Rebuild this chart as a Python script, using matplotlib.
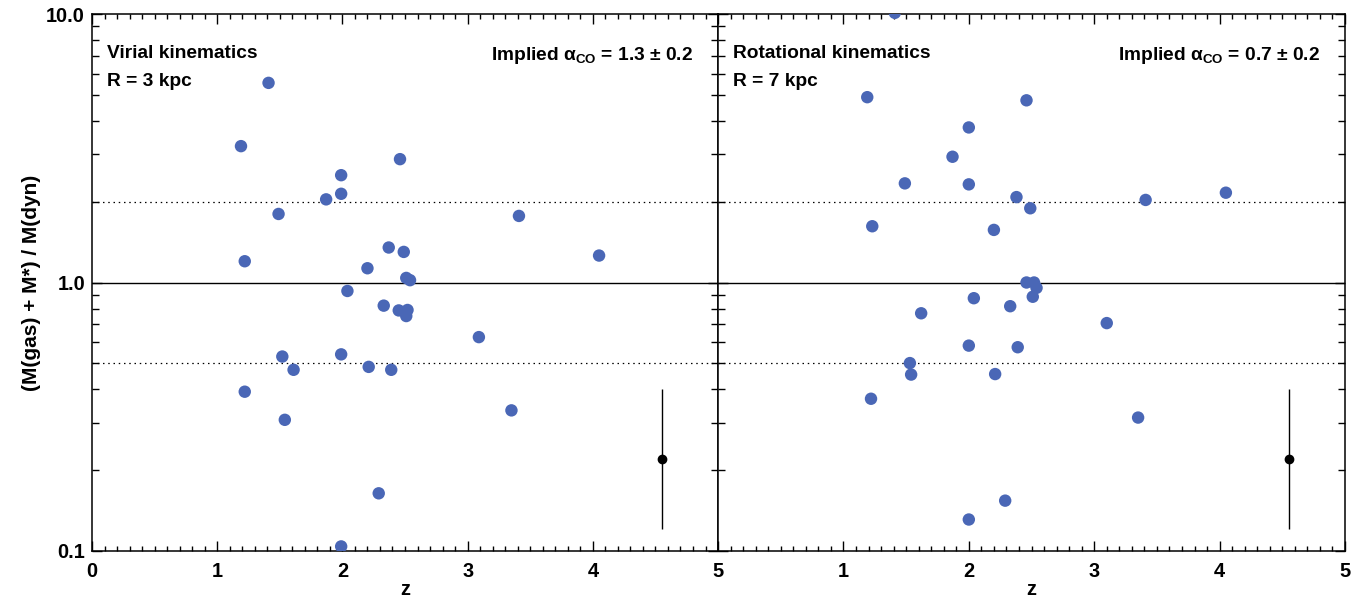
import matplotlib
matplotlib.use("Agg")
import matplotlib.pyplot as plt
from matplotlib.ticker import FixedLocator, LogLocator, MultipleLocator, NullFormatter

plt.rcParams['font.family'] = ['Liberation Sans', 'DejaVu Sans']
plt.rcParams['font.weight'] = 'bold'
plt.rcParams['mathtext.fontset'] = 'custom'
plt.rcParams['mathtext.rm'] = 'Liberation Sans'
plt.rcParams['mathtext.it'] = 'Liberation Sans'

# virial kinematics, R = 3 kpc
z_vir = [1.41, 1.19, 1.99, 1.99, 1.87, 1.49, 1.22, 2.20, 2.37, 2.04,
         2.46, 3.41, 2.49, 4.05, 2.51, 2.54, 2.33, 2.45, 2.52, 2.51,
         3.09, 1.52, 1.99, 1.61, 2.21, 2.39, 1.22, 1.54, 3.35, 2.29, 1.99]
ratio_vir = [5.54, 3.22, 2.51, 2.14, 2.04, 1.80, 1.20, 1.13, 1.35, 0.93,
             2.88, 1.77, 1.30, 1.26, 1.04, 1.02, 0.82, 0.787, 0.79, 0.75,
             0.626, 0.53, 0.54, 0.473, 0.485, 0.473, 0.392, 0.308, 0.334, 0.164, 0.104]

# rotational kinematics, R = 7 kpc
z_rot = [1.41, 1.19, 2.46, 2.00, 1.87, 1.49, 2.00, 2.38, 2.49, 1.23,
         2.20, 2.46, 2.52, 3.41, 4.05, 2.54, 2.04, 2.51, 2.33, 1.62,
         2.00, 2.39, 1.53, 1.54, 2.21, 1.22, 2.29, 2.00, 3.10, 3.35]
ratio_rot = [10.1, 4.90, 4.77, 3.78, 2.94, 2.34, 2.32, 2.08, 1.89, 1.62,
             1.57, 1.00, 1.00, 2.03, 2.16, 0.955, 0.874, 0.885, 0.816, 0.768,
             0.582, 0.574, 0.501, 0.454, 0.456, 0.369, 0.154, 0.131, 0.706, 0.314]

# typical uncertainty point
err_z = 4.55
err_val = 0.221
err_lo = 0.121
err_hi = 0.402

x_labels_left = ['0', '1', '2', '3', '4', '5']
x_labels_right = ['', '1', '2', '3', '4', '5']
y_labels = ['0.1', '1.0', '10.0']

panels = [
    (z_vir, ratio_vir, 'Virial kinematics', 'R = 3 kpc', r'Implied $\alpha_{\rm CO}$ = 1.3 ± 0.2', x_labels_left),
    (z_rot, ratio_rot, 'Rotational kinematics', 'R = 7 kpc', r'Implied $\alpha_{\rm CO}$ = 0.7 ± 0.2', x_labels_right),
]

fig = plt.figure(figsize=(13.63, 6.01), dpi=100)
left, mid, right = 0.0675, 0.5268, 0.9868
bottom, top = 0.0832, 0.9767
axes = [fig.add_axes([left, bottom, mid - left, top - bottom]),
        fig.add_axes([mid, bottom, right - mid, top - bottom])]

for i, (ax, (zs, vals, name, rad, alpha_txt, xlabs)) in enumerate(zip(axes, panels)):
    ax.set_yscale('log')
    ax.set_xlim(0, 5)
    ax.set_ylim(0.1, 10)

    ax.axhline(1.0, color='black', lw=1.0, zorder=1)
    ax.axhline(2.0, color='black', lw=0.9, ls=(0, (1.2, 3)), zorder=1)
    ax.axhline(0.5, color='black', lw=0.9, ls=(0, (1.2, 3)), zorder=1)

    ax.scatter(zs, vals, s=80, color='#4a67b6', edgecolors='none', zorder=3)

    ax.errorbar([err_z], [err_val],
                yerr=[[err_val - err_lo], [err_hi - err_val]],
                fmt='o', color='black', ms=6, elinewidth=1.0, capsize=0, zorder=4)

    ax.text(0.024, 0.943, name, transform=ax.transAxes, fontsize=13.8,
            fontweight='bold', va='top', ha='left')
    ax.text(0.024, 0.891, rad, transform=ax.transAxes, fontsize=13.8,
            fontweight='bold', va='top', ha='left')
    ax.text(0.960, 0.943, alpha_txt, transform=ax.transAxes, fontsize=13.8,
            fontweight='bold', va='top', ha='right')

    ax.xaxis.set_minor_locator(MultipleLocator(0.1))
    ax.yaxis.set_major_locator(FixedLocator([0.1, 1.0, 10.0]))
    ax.yaxis.set_minor_locator(LogLocator(base=10, subs=range(2, 10)))
    ax.yaxis.set_minor_formatter(NullFormatter())
    ax.tick_params(which='both', direction='in', top=True, right=True,
                   width=1.0, labelsize=14.4)
    ax.tick_params(axis='x', which='major', length=7, pad=8)
    ax.tick_params(axis='x', which='minor', length=3.7)
    ax.tick_params(axis='y', which='major', length=7, pad=5)
    ax.tick_params(axis='y', which='minor', length=5)
    for sp in ax.spines.values():
        sp.set_linewidth(1.1)

    ax.set_xticks([0, 1, 2, 3, 4, 5])
    ax.set_xticklabels(xlabs, fontweight='bold')
    ax.set_xlabel('z', fontsize=14.5, fontweight='bold', labelpad=-1)
    if i == 0:
        ax.set_yticks([0.1, 1.0, 10.0])
        ax.set_yticklabels(y_labels, fontweight='bold')
        ax.set_ylabel('(M(gas) + M*) / M(dyn)', fontsize=15, fontweight='bold', labelpad=4)
    else:
        ax.set_yticklabels([])

fig.savefig('out.png', dpi=100)
